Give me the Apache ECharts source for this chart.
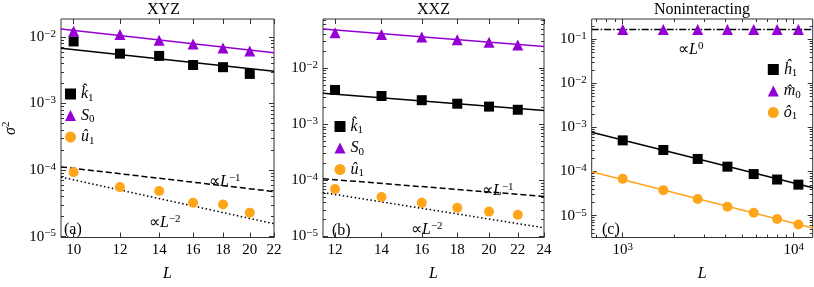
<!DOCTYPE html>
<html><head><meta charset="utf-8">
<script src="https://cdn.jsdelivr.net/npm/echarts@6/dist/echarts.min.js"></script>
<style>html,body{margin:0;padding:0;background:#fff}#c{width:814px;height:287px}</style>
</head><body><div id="c"></div>
<script>
// ---------- data ----------
// Panel (a) XYZ
const L_xyz   = [10, 12, 14, 16, 18, 20];
const xyz_k1  = [0.00858, 0.00562, 0.00520, 0.00380, 0.00352, 0.00279];
const xyz_S0  = [0.01222, 0.01094, 0.00896, 0.00784, 0.00686, 0.00615];
const xyz_u1  = [9.26e-5, 5.54e-5, 4.85e-5, 3.22e-5, 3.04e-5, 2.29e-5];
const xyz_fitL   = [9.515, 22];
const xyz_k1Fit  = [0.00679, 0.00306];
const xyz_S0Fit  = [0.01315, 0.00581];
const xyz_inv1   = [1.116e-4, 4.75e-5];
const xyz_inv2   = [7.84e-5, 1.56e-5];
const xyz_xTicks = [10, 12, 14, 16, 18, 20, 22];

// Panel (b) XXZ
const L_xxz   = [12, 14, 16, 18, 20, 22];
const xxz_k1  = [0.00408, 0.00318, 0.00268, 0.00232, 0.00206, 0.00181];
const xxz_S0  = [0.0427, 0.0398, 0.0358, 0.0318, 0.0287, 0.0258];
const xxz_u1  = [7.0e-5, 5.05e-5, 3.98e-5, 3.26e-5, 2.78e-5, 2.45e-5];
const xxz_fitL   = [11.53, 24];
const xxz_k1Fit  = [0.00358, 0.00176];
const xxz_S0Fit  = [0.0499, 0.0242];
const xxz_inv1   = [1.07e-4, 5.19e-5];
const xxz_inv2   = [6.08e-5, 1.43e-5];
const xxz_xTicks = [12, 14, 16, 18, 20, 22, 24];

// Panel (c) Noninteracting
const L_free  = [1000, 1728, 2744, 4096, 5832, 8000, 10648];
const free_h1 = [5.09e-4, 3.08e-4, 1.93e-4, 1.29e-4, 8.77e-5, 6.59e-5, 5.05e-5];
const free_m0 = [0.165, 0.165, 0.165, 0.165, 0.165, 0.165, 0.165];
const free_o1 = [6.83e-5, 3.79e-5, 2.38e-5, 1.59e-5, 1.16e-5, 8.39e-6, 6.32e-6];
const free_fitL  = [658.5, 12915];
const free_h1Fit = [7.74e-4, 4.27e-5];
const free_o1Fit = [9.86e-5, 5.25e-6];
const free_m0Fit = [0.167, 0.167];
const free_xTicks = [1000, 10000];

const titles = ['XYZ', 'XXZ', 'Noninteracting'];

// ---------- styling ----------
const FONT = 'Liberation Serif';
const BLACK = '#000000', PURPLE = '#9400d3', ORANGE = '#ffa51c', FRAME = '#333333';
const lg = Math.log10;
const R = {
  b: {fontFamily: FONT, fontSize: 15, color: '#000', lineHeight: 17},
  s: {fontFamily: FONT, fontSize: 11, color: '#000', lineHeight: 9, verticalAlign: 'top'},
  i: {fontFamily: FONT, fontSize: 16, fontStyle: 'italic', color: '#000', lineHeight: 19},
  n: {fontFamily: FONT, fontSize: 16, color: '#000', lineHeight: 19},
  ss: {fontFamily: FONT, fontSize: 11, color: '#000', lineHeight: 10, verticalAlign: 'top'},
  sub: {fontFamily: FONT, fontSize: 11, color: '#000', lineHeight: 9, verticalAlign: 'bottom'}
};

function decades(lo, hi) { const r = []; for (let k = Math.ceil(lo - 1e-9); k <= hi + 1e-9; k++) r.push(k); return r; }
function minors(lo, hi) { const r = []; for (let k = Math.floor(lo) ; k <= Math.ceil(hi); k++) for (let m = 2; m <= 9; m++) { const v = k + lg(m); if (v > lo && v < hi) r.push(v); } return r; }
const pts = (Ls, vs) => Ls.map((L, i) => [lg(L), lg(vs[i])]);

const grids = [], xAxes = [], yAxes = [], series = [], legends = [];
const supFmt = v => { const k = Math.round(v); return '{b|10}{s|' + (k < 0 ? '\u2212' + (-k) : k) + '}'; };

function tickAxis(base, pos, vals, len, labels) {
  return Object.assign({}, base, {
    position: pos,
    axisLine: {show: false}, splitLine: {show: false},
    axisTick: {show: true, inside: true, length: len, lineStyle: {color: FRAME, width: 1}, customValues: vals},
    axisLabel: labels ? Object.assign({customValues: vals}, labels) : {show: false}
  });
}

function panel(p) {
  const g = grids.length;
  grids.push({left: p.left, top: 19, width: p.width, height: 227, show: true, borderColor: FRAME, borderWidth: 1, backgroundColor: 'rgba(0,0,0,0)'});
  const xb = {type: 'value', gridIndex: g, min: p.x[0], max: p.x[1]};
  const yb = {type: 'value', gridIndex: g, min: p.y[0], max: p.y[1]};
  const xi = xAxes.length;
  const xMain = tickAxis(xb, 'bottom', p.xMajor, 5, {margin: 4, formatter: p.xFmt, rich: R, fontFamily: FONT, fontSize: 15, color: '#000'});
  xMain.name = '{i|L}'; xMain.nameLocation = 'middle'; xMain.nameGap = 27;
  xMain.nameTextStyle = {rich: R};
  xAxes.push(xMain);
  xAxes.push(tickAxis(xb, 'top', p.xMajor, 5, null));
  if (p.xMinor) { xAxes.push(tickAxis(xb, 'bottom', p.xMinor, 3, null)); xAxes.push(tickAxis(xb, 'top', p.xMinor, 3, null)); }
  const yi = yAxes.length;
  const yMajor = decades(p.y[0], p.y[1]);
  const yMain = tickAxis(yb, 'left', yMajor, 5, {margin: 5, formatter: supFmt, rich: R, fontFamily: FONT, fontSize: 15, color: '#000'});
  if (p.yName) { yMain.name = '{i|\u03c3}{ss|2}'; yMain.nameLocation = 'middle'; yMain.nameGap = 41; yMain.nameRotate = 90; yMain.nameTextStyle = {rich: R}; }
  yAxes.push(yMain);
  yAxes.push(tickAxis(yb, 'right', yMajor, 5, null));
  const ym = minors(p.y[0], p.y[1]);
  yAxes.push(tickAxis(yb, 'left', ym, 3, null));
  yAxes.push(tickAxis(yb, 'right', ym, 3, null));
  p.lines.forEach(l => series.push({type: 'line', xAxisIndex: xi, yAxisIndex: yi, data: pts(l.L, l.v), showSymbol: false, silent: true, z: 2,
    lineStyle: {color: l.color, width: 1.5, type: l.type || 'solid'}}));
  p.marks.forEach(m => series.push({type: 'scatter', name: m.name, xAxisIndex: xi, yAxisIndex: yi, data: pts(m.L, m.v), symbol: m.symbol, symbolSize: m.size, z: 3,
    itemStyle: {color: m.color, opacity: 1}}));
  legends.push({data: p.marks.map(m => m.name), orient: 'vertical', left: p.leg[0], top: p.leg[1], itemWidth: 11, itemHeight: 11, itemGap: 4,
    selectedMode: false, formatter: n => p.marks.find(m => m.name === n).label, textStyle: {rich: R}, padding: 0});
}

const intFmt = v => '{b|' + Math.round(Math.pow(10, v)) + '}';

panel({left: 53, width: 221, x: [lg(9.515), lg(22)], y: [-5.014, -1.729], xMajor: xyz_xTicks.map(lg), xFmt: intFmt, yName: true, leg: [65, 86],
  lines: [
    {L: xyz_fitL, v: xyz_S0Fit, color: PURPLE}, {L: xyz_fitL, v: xyz_k1Fit, color: BLACK},
    {L: xyz_fitL, v: xyz_inv1, color: BLACK, type: [6, 3]}, {L: xyz_fitL, v: xyz_inv2, color: BLACK, type: [1.5, 2.5]}],
  marks: [
    {name: 'a_k1', L: L_xyz, v: xyz_k1, symbol: 'rect', size: 10, color: BLACK, label: '{i|k\u0302}{sub|1}'},
    {name: 'a_S0', L: L_xyz, v: xyz_S0, symbol: 'triangle', size: 11, color: PURPLE, label: '{i|S}{sub|0}'},
    {name: 'a_u1', L: L_xyz, v: xyz_u1, symbol: 'circle', size: 10, color: ORANGE, label: '{i|\u00fb}{sub|1}'}]});

panel({left: 323, width: 221, x: [lg(11.53), lg(24)], y: [-5.017, -1.126], xMajor: xxz_xTicks.map(lg), xFmt: intFmt, leg: [334.5, 118.5],
  lines: [
    {L: xxz_fitL, v: xxz_S0Fit, color: PURPLE}, {L: xxz_fitL, v: xxz_k1Fit, color: BLACK},
    {L: xxz_fitL, v: xxz_inv1, color: BLACK, type: [6, 3]}, {L: xxz_fitL, v: xxz_inv2, color: BLACK, type: [1.5, 2.5]}],
  marks: [
    {name: 'b_k1', L: L_xxz, v: xxz_k1, symbol: 'rect', size: 10, color: BLACK, label: '{i|k\u0302}{sub|1}'},
    {name: 'b_S0', L: L_xxz, v: xxz_S0, symbol: 'triangle', size: 11, color: PURPLE, label: '{i|S}{sub|0}'},
    {name: 'b_u1', L: L_xxz, v: xxz_u1, symbol: 'circle', size: 10, color: ORANGE, label: '{i|\u00fb}{sub|1}'}]});

panel({left: 591.7, width: 221, x: [lg(free_fitL[0]), lg(free_fitL[1])], y: [-5.495, -0.542], xMajor: free_xTicks.map(lg), xFmt: supFmt,
  xMinor: minors(lg(free_fitL[0]), lg(free_fitL[1])), leg: [767.8, 61.5],
  lines: [
    {L: free_fitL, v: free_m0Fit, color: BLACK, type: [7, 2, 1.5, 2]}, {L: free_fitL, v: free_h1Fit, color: BLACK},
    {L: free_fitL, v: free_o1Fit, color: ORANGE}],
  marks: [
    {name: 'c_h1', L: L_free, v: free_h1, symbol: 'rect', size: 10, color: BLACK, label: '{i|\u0125}{sub|1}'},
    {name: 'c_m0', L: L_free, v: free_m0, symbol: 'triangle', size: 11, color: PURPLE, label: '{i|m\u0302}{sub|0}'},
    {name: 'c_o1', L: L_free, v: free_o1, symbol: 'circle', size: 10, color: ORANGE, label: '{i|\u00f4}{sub|1}'}]});

const txt = (x, y, text, align) => ({type: 'text', x: x, y: y, silent: true,
  style: {text: text, rich: R, textAlign: align || 'left', textVerticalAlign: 'middle', fill: '#000', fontFamily: FONT, fontSize: 16}});

const graphics = [
  {type: 'text', x: 163.5, y: 10, style: {text: titles[0], textAlign: 'center', textVerticalAlign: 'middle', fontFamily: FONT, fontSize: 16, fill: '#000'}},
  {type: 'text', x: 433.5, y: 10, style: {text: titles[1], textAlign: 'center', textVerticalAlign: 'middle', fontFamily: FONT, fontSize: 16, fill: '#000'}},
  {type: 'text', x: 702, y: 10, style: {text: titles[2], textAlign: 'center', textVerticalAlign: 'middle', fontFamily: FONT, fontSize: 16, fill: '#000'}},
  txt(209, 182, '{n|\u221d}{i|L}{ss|\u22121}'),
  txt(149, 223, '{n|\u221d}{i|L}{ss|\u22122}'),
  txt(64, 230, '{n|(a)}'),
  txt(482, 191, '{n|\u221d}{i|L}{ss|\u22121}'),
  txt(411, 230, '{n|\u221d}{i|L}{ss|\u22122}'),
  txt(332, 231, '{n|(b)}'),
  txt(678, 50, '{n|\u221d}{i|L}{ss|0}'),
  txt(602, 230, '{n|(c)}')
];

const chart = echarts.init(document.getElementById('c'), null, {renderer: 'canvas'});
chart.setOption({
  animation: false,
  backgroundColor: '#fff',
  grid: grids, xAxis: xAxes, yAxis: yAxes, series: series, legend: legends, graphic: graphics
});
</script>
</body></html>
